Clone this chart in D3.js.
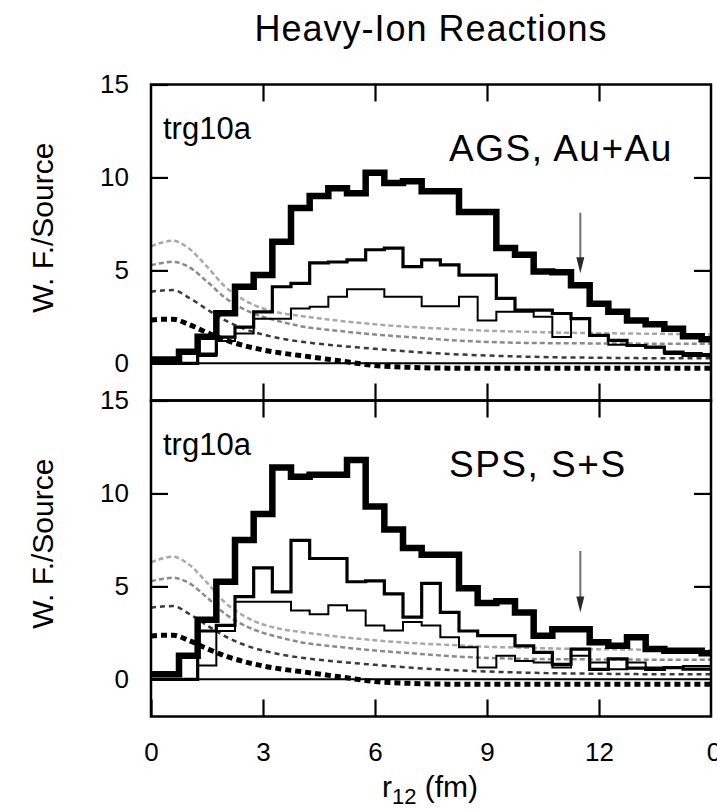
<!DOCTYPE html>
<html>
<head>
<meta charset="utf-8">
<script src="https://cdn.jsdelivr.net/npm/d3@7/dist/d3.min.js"></script>
<style>
body { margin: 0; background: #fff; }
svg text { font-family: "Liberation Sans", Arial, Helvetica, sans-serif; fill: #000; }
</style>
</head>
<body>
<svg id="chart" width="717" height="809"></svg>
<script>
// histogram bin centres, fm
var binR = [0, 0.5, 1, 1.5, 2, 2.5, 3, 3.5, 4, 4.5, 5, 5.5, 6, 6.5, 7, 7.5, 8, 8.5, 9, 9.5, 10, 10.5, 11, 11.5, 12, 12.5, 13, 13.5, 14, 14.5, 15];

// AGS Au+Au sources
var agsThick  = [0.2, 0.21, 0.62, 1.43, 2.69, 4.12, 4.75, 6.54, 8.35, 9.0, 9.42, 9.15, 10.25, 9.7, 9.8, 9.26, 9.26, 8.14, 8.14, 6.2, 5.84, 4.94, 4.9, 4.2, 3.2, 2.77, 2.3, 2.1, 1.86, 1.45, 1.3];
var agsMedium = [0, 0, 0, 0.5, 1.41, 1.95, 2.77, 4.12, 4.3, 5.4, 5.45, 5.57, 6.11, 6.2, 5.2, 5.57, 5.3, 4.75, 4.75, 3.49, 2.86, 2.86, 2.68, 2.4, 1.5, 1.23, 0.96, 0.87, 0.6, 0.42, 0.42];
var agsThin   = [0, 0, 0, 0.4, 1.2, 1.6, 2.4, 2.4, 2.95, 3.04, 3.58, 3.98, 3.98, 3.58, 3.58, 3.07, 3.07, 3.58, 2.31, 2.77, 2.77, 2.5, 1.41, 2.4, 1.5, 1.0, 0.95, 0.85, 0.5, 0.55, 0.5];

// SPS S+S sources
var spsThick  = [0.27, 0.27, 1.27, 3.2, 5.25, 7.5, 8.9, 11.4, 10.9, 11.0, 11.0, 11.8, 9.3, 8.06, 7.07, 6.7, 6.7, 4.9, 4.1, 4.2, 3.6, 2.35, 2.7, 2.7, 2.0, 1.8, 2.26, 1.63, 1.54, 1.54, 1.4];
var spsMedium = [0, 0, 0, 2.6, 2.9, 4.45, 6.0, 4.7, 7.47, 6.5, 6.5, 5.25, 5.3, 4.6, 3.35, 5.16, 3.6, 2.6, 2.35, 2.35, 1.8, 1.45, 0.8, 1.63, 0.54, 1.1, 0.6, 0.54, 0.63, 0.55, 0.55];
var spsThin   = [0, 0, 0, 0.75, 2.6, 4.17, 4.17, 4.17, 3.7, 3.5, 3.98, 3.7, 2.9, 2.63, 3.08, 2.9, 2.26, 1.72, 0.63, 1.27, 0.99, 0.9, 0.63, 1.27, 0.9, 0.54, 0.9, 0.63, 0.63, 0.72, 0.72];

// wave functions (same in both panels)
var wfR = [0, 0.3, 0.6, 1, 1.5, 2, 2.5, 3, 3.5, 4, 5, 6, 7, 8, 9, 10, 11, 12, 13, 14, 15];
var wf1 = [6.3, 6.5, 6.6, 6.2, 5.2, 4.1, 3.4, 2.95, 2.7, 2.55, 2.3, 2.1, 1.95, 1.85, 1.75, 1.7, 1.65, 1.62, 1.6, 1.58, 1.55];
var wf2 = [5.28, 5.4, 5.46, 5.2, 4.4, 3.5, 2.9, 2.5, 2.23, 2.0, 1.75, 1.55, 1.4, 1.25, 1.15, 1.1, 1.08, 1.07, 1.06, 1.05, 1.05];
var wf3 = [3.85, 3.92, 3.94, 3.55, 2.9, 2.3, 1.85, 1.55, 1.33, 1.17, 0.95, 0.78, 0.62, 0.5, 0.42, 0.36, 0.32, 0.3, 0.28, 0.27, 0.27];
var wf4 = [2.33, 2.37, 2.37, 2.1, 1.65, 1.25, 0.95, 0.72, 0.55, 0.42, 0.15, -0.12, -0.22, -0.26, -0.27, -0.27, -0.27, -0.27, -0.27, -0.27, -0.27];

// arrows: r position, start and tip value
var agsArrow = [11.5, 8.1, 4.85];
var spsArrow = [11.5, 6.9, 3.6];

var xTicks = [0, 3, 6, 9, 12];
var yTicks = [0, 5, 10, 15];

var svg = d3.select("#chart");
var panelH = 316;

var x = d3.scaleLinear().domain([0, 15]).range([151, 711]);

var panels = [
  {top: 84.5, tag: "trg10a", name: "AGS, Au+Au", thick: agsThick, medium: agsMedium, thin: agsThin, arrow: agsArrow},
  {top: 400.5, tag: "trg10a", name: "SPS, S+S", thick: spsThick, medium: spsMedium, thin: spsThin, arrow: spsArrow}
];

var wfStyles = [
  {v: wf1, color: "#a8a8a8", w: 2.5, dash: "5,3"},
  {v: wf2, color: "#8a8a8a", w: 2.5, dash: "5,3"},
  {v: wf3, color: "#3a3a3a", w: 2.5, dash: "5,4"},
  {v: wf4, color: "#000", w: 5, dash: "6,4"}
];

var defs = svg.append("defs");

panels.forEach(function(p, pi){
  var y = d3.scaleLinear().domain([-2, 15]).range([p.top + panelH, p.top]);
  var g = svg.append("g");

  defs.append("clipPath").attr("id", "clip" + pi)
    .append("rect")
      .attr("x", x(0)).attr("y", p.top)
      .attr("width", x(15) - x(0)).attr("height", panelH);

  var body = g.append("g").attr("clip-path", "url(#clip" + pi + ")");

  var wfLine = d3.line()
      .x(function(d, i){ return x(wfR[i]); })
      .y(function(d){ return y(d); })
      .curve(d3.curveMonotoneX);

  wfStyles.forEach(function(s){
    body.append("path")
      .attr("d", wfLine(s.v))
      .attr("fill", "none")
      .attr("stroke", s.color)
      .attr("stroke-width", s.w)
      .attr("stroke-dasharray", s.dash);
  });

  // zero line
  body.append("line")
    .attr("x1", x(0)).attr("x2", x(15))
    .attr("y1", y(0)).attr("y2", y(0))
    .attr("stroke", "#000").attr("stroke-width", 2);

  var hist = d3.line()
      .x(function(d, i){ return x(binR[i]); })
      .y(function(d){ return y(d); })
      .curve(d3.curveStep);

  [[p.thin, 2], [p.medium, 3.2], [p.thick, 6.5]].forEach(function(h){
    body.append("path")
      .attr("d", hist(h[0]))
      .attr("fill", "none")
      .attr("stroke", "#000")
      .attr("stroke-width", h[1])
      .attr("stroke-linejoin", "miter");
  });

  // arrow
  var ax = x(p.arrow[0]), tip = y(p.arrow[2]);
  body.append("line")
    .attr("x1", ax).attr("x2", ax)
    .attr("y1", y(p.arrow[1])).attr("y2", tip - 10)
    .attr("stroke", "#707070").attr("stroke-width", 2);
  body.append("path")
    .attr("d", "M" + (ax - 4) + "," + (tip - 16) + "L" + (ax + 4) + "," + (tip - 16) + "L" + ax + "," + tip + "Z")
    .attr("fill", "#2a2a2a");

  // ticks
  var left = d3.axisLeft(y).tickValues(yTicks).tickSize(-17).tickPadding(22);
  var right = d3.axisRight(y).tickValues([5, 10]).tickSize(-17).tickFormat("");
  var top = d3.axisTop(x).tickValues([3, 6, 9, 12]).tickSize(-17).tickFormat("");
  var bottom = d3.axisBottom(x).tickValues(pi === 1 ? xTicks : [3, 6, 9, 12]).tickSize(-17).tickPadding(26);
  if(pi === 0) bottom.tickFormat("");

  g.append("g").attr("transform", "translate(" + x(0) + ",0)").call(left);
  g.append("g").attr("transform", "translate(" + x(15) + ",0)").call(right);
  g.append("g").attr("transform", "translate(0," + p.top + ")").call(top);
  g.append("g").attr("transform", "translate(0," + (p.top + panelH) + ")").call(bottom);

  g.selectAll(".domain").remove();
  g.selectAll(".tick line").attr("stroke", "#000").attr("stroke-width", 2.2);
  g.selectAll(".tick text").style("font-size", "26px").style("font-family", "'Liberation Sans', Arial, sans-serif");

  // frame
  g.append("rect")
    .attr("x", x(0)).attr("y", p.top)
    .attr("width", x(15) - x(0)).attr("height", panelH)
    .attr("fill", "none").attr("stroke", "#000").attr("stroke-width", 2.5);

  g.append("text")
    .attr("x", 163).attr("y", p.top + 54)
    .style("font-size", "31px")
    .text(p.tag);

  g.append("text")
    .attr("x", 449).attr("y", p.top + 76)
    .style("font-size", "37px")
    .style("letter-spacing", "1.5px")
    .text(p.name);

  g.append("text")
    .attr("transform", "translate(53," + y(7.3) + ") rotate(-90)")
    .attr("text-anchor", "middle")
    .style("font-size", "30px")
    .text("W. F./Source");

  if(pi === 1){
    // next panel's origin label, cut by the edge
    g.append("text")
      .attr("x", 714).attr("y", p.top + panelH + 26)
      .attr("dy", "0.71em")
      .attr("text-anchor", "middle")
      .style("font-size", "26px")
      .text("0");
  }
});

svg.append("text")
  .attr("x", 431).attr("y", 41)
  .attr("text-anchor", "middle")
  .style("font-size", "36px")
  .style("letter-spacing", "1px")
  .text("Heavy-Ion Reactions");

var xt = svg.append("text")
  .attr("x", 430).attr("y", 797)
  .attr("text-anchor", "middle")
  .style("font-size", "30px");
xt.append("tspan").text("r");
xt.append("tspan").attr("dy", 7).style("font-size", "22px").text("12");
xt.append("tspan").attr("dy", -7).text(" (fm)");
</script>
</body>
</html>
